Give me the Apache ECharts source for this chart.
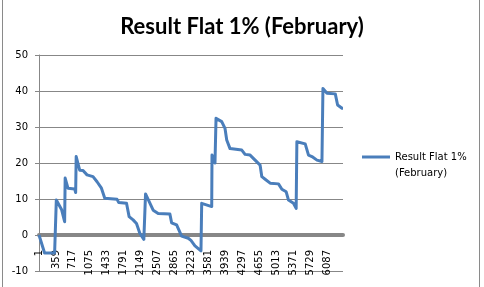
<!DOCTYPE html>
<html>
<head>
<meta charset="utf-8">
<script src="https://cdn.jsdelivr.net/npm/echarts@6/dist/echarts.min.js"></script>
<style>
html,body{margin:0;padding:0;background:#fff;}
#frame{position:absolute;left:2px;top:-1px;width:478px;height:290px;border:1px solid #8a8a8a;box-sizing:border-box;pointer-events:none;}
#chart{position:absolute;left:0;top:0;width:484px;height:287px;}
</style>
</head>
<body>
<div id="chart"></div>
<div id="frame"></div>
<script>
// Data (x = row index, y = result)
var seriesName = 'Result Flat 1% (February)';
var xValues = [1, 119, 331, 346, 367, 480, 543, 554, 613, 755, 776, 787, 861, 931, 1016, 1143, 1228, 1321, 1391, 1651, 1687, 1851, 1906, 1990, 2062, 2132, 2217, 2253, 2308, 2414, 2520, 2768, 2804, 2910, 3016, 3156, 3213, 3298, 3425, 3440, 3652, 3658, 3721, 3743, 3863, 3933, 3969, 4039, 4287, 4357, 4463, 4569, 4675, 4711, 4781, 4887, 5063, 5135, 5226, 5275, 5380, 5437, 5452, 5628, 5698, 5770, 5876, 5982, 6003, 6088, 6264, 6313, 6406, 6427];
var yValues = [0, -5, -5, -5, 9.7, 7, 3.7, 15.8, 13, 12.8, 11.8, 21.8, 18, 17.9, 16.7, 16.2, 14.8, 13, 10.2, 9.9, 9, 8.8, 5.1, 4.2, 3.2, 0.5, -1.2, 11.4, 9.9, 6.9, 6, 5.8, 3.4, 2.8, -0.3, -0.9, -1.5, -3, -4.4, 8.8, 7.9, 22.2, 20, 32.4, 31.5, 29.6, 26.4, 24, 23.6, 22.4, 22.2, 20.8, 19.4, 16.2, 15.5, 14.4, 14.2, 12.7, 12, 9.7, 8.8, 7.4, 25.9, 25.3, 22.2, 21.8, 20.8, 20.4, 40.7, 39.4, 39.2, 36.1, 35.2, 35.2];
var xTickLabels = [1, 359, 717, 1075, 1433, 1791, 2149, 2507, 2865, 3223, 3581, 3939, 4297, 4655, 5013, 5371, 5729, 6087];
var xMax = 6427;
var yMin = -10, yMax = 50, yStep = 10;

var data = xValues.map(function (x, i) { return [x, yValues[i]]; });

var chart = echarts.init(document.getElementById('chart'), null, {renderer: 'canvas'});
chart.setOption({
  animation: false,
  backgroundColor: '#ffffff',
  title: {
    text: 'Result Flat 1% (February)',
    left: 'center',
    top: 11,
    textStyle: {fontFamily: 'Lato', fontWeight: 'bold', fontSize: 22, color: '#000'}
  },
  legend: {
    left: 362,
    top: 152,
    padding: 0,
    icon: 'rect',
    itemWidth: 28,
    itemHeight: 3,
    itemGap: 3,
    formatter: function () { return '{a|Result Flat 1%}\n{a|(February)}'; },
    textStyle: {
      padding: [16, 0, 0, 0],
      rich: {a: {fontFamily: 'DejaVu Sans', fontSize: 10, color: '#000', lineHeight: 16}}
    },
    data: [seriesName]
  },
  grid: {left: 39, top: 55, right: 141, bottom: 16, containLabel: false, outerBoundsMode: 'none'},
  xAxis: {
    type: 'value',
    min: 1,
    max: xMax,
    axisLine: {show: true, onZero: true, lineStyle: {color: '#878787', width: 4}},
    axisTick: {show: false},
    splitLine: {show: false},
    axisLabel: {
      customValues: xTickLabels,
      formatter: function (v) { return String(v); },
      rotate: 90,
      margin: -21,
      hideOverlap: false,
      fontFamily: 'DejaVu Sans',
      fontSize: 10,
      color: '#000'
    }
  },
  yAxis: {
    type: 'value',
    min: yMin,
    max: yMax,
    interval: yStep,
    axisLine: {show: true, lineStyle: {color: '#878787', width: 1}},
    axisTick: {show: true, length: 4, lineStyle: {color: '#878787'}},
    splitLine: {show: true, lineStyle: {color: '#878787', width: 1}},
    axisLabel: {margin: 11, fontFamily: 'DejaVu Sans', fontSize: 10, color: '#000'}
  },
  series: [{
    name: seriesName,
    type: 'line',
    data: data,
    symbol: 'none',
    color: '#4A7EBB',
    lineStyle: {width: 3, color: '#4A7EBB', join: 'round'},
    z: 5
  }]
});
</script>
</body>
</html>
